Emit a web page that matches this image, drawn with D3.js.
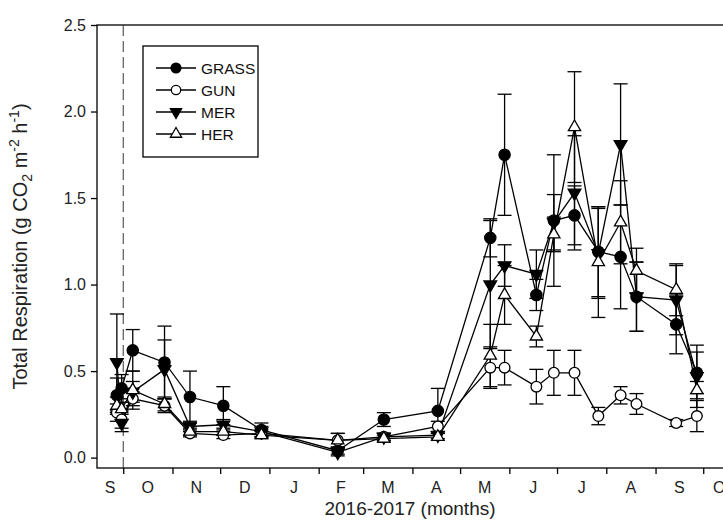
<!DOCTYPE html>
<html>
<head>
<meta charset="utf-8">
<script src="https://cdn.jsdelivr.net/npm/d3@7"></script>
<style>
  body { margin: 0; background: #fff; }
  svg { display: block; font-family: "Liberation Sans", Arial, sans-serif; }
</style>
</head>
<body>
<svg id="chart" width="723" height="520"></svg>
<script>
// ---- data ----
const dates = ["2016-09-27","2016-09-30","2016-10-07","2016-10-27","2016-11-12","2016-12-03","2016-12-27","2017-02-13","2017-03-14","2017-04-17","2017-05-20","2017-05-29","2017-06-18","2017-06-29","2017-07-12","2017-07-27","2017-08-10","2017-08-20","2017-09-14","2017-09-27"];
const grass    = [0.36,0.40,0.62,0.55,0.35,0.30,0.16,0.04,0.22,0.27,1.27,1.75,0.94,1.37,1.40,1.19,1.16,0.93,0.77,0.49];
const grassErr = [0.10,0.08,0.12,0.21,0.15,0.11,0.04,0.02,0.04,0.13,0.11,0.35,0.09,0.38,0.17,0.26,0.30,0.20,0.17,0.12];
const gun      = [0.26,0.22,0.34,0.30,0.14,0.13,0.14,0.10,0.12,0.18,0.52,0.52,0.41,0.49,0.49,0.24,0.36,0.31,0.20,0.24];
const gunErr   = [0.05,0.05,0.04,0.04,0.02,0.02,0.02,0.04,0.02,0.03,0.12,0.10,0.10,0.13,0.13,0.05,0.05,0.06,0.02,0.09];
const mer      = [0.55,0.20,0.38,0.51,0.18,0.19,0.15,0.03,0.12,0.13,1.00,1.11,1.06,1.36,1.53,1.18,1.81,0.93,0.91,0.47];
const merErr   = [0.28,0.05,0.06,0.17,0.03,0.03,0.03,0.02,0.02,0.02,0.37,0.12,0.14,0.16,0.33,0.26,0.35,0.20,0.20,0.18];
const her      = [0.30,0.28,0.39,0.31,0.15,0.15,0.13,0.10,0.11,0.12,0.59,0.94,0.70,1.29,1.91,1.13,1.36,1.08,0.97,0.39];
const herErr   = [0.05,0.06,0.11,0.04,0.02,0.02,0.02,0.04,0.02,0.02,0.18,0.17,0.06,0.10,0.32,0.32,0.24,0.13,0.15,0.05];
const seriesNames = ["GRASS","GUN","MER","HER"];
const yTicks = [0.0,0.5,1.0,1.5,2.0,2.5];
const monthLabels = ["S","O","N","D","J","F","M","A","M","J","J","A","S","O"];
const treatmentDate = "2016-10-01";

// ---- layout ----
const svg = d3.select("#chart");
const L = 97, T = 25, R = 735, B = 468;
const parse = d3.timeParse("%Y-%m-%d");
const x = d3.scaleTime()
  .domain([new Date(2016, 8, 14, 12), new Date(2017, 9, 21)])
  .range([L, R]);
const y = d3.scaleLinear().domain([-0.06, 2.5]).range([B, T]);

const font = 16;

// frame
svg.append("rect").attr("x", L).attr("y", T).attr("width", R - L).attr("height", B - T)
  .attr("fill", "none").attr("stroke", "#000").attr("stroke-width", 1.3);

// dashed treatment line
svg.append("line")
  .attr("x1", x(parse(treatmentDate))).attr("x2", x(parse(treatmentDate)))
  .attr("y1", T).attr("y2", B)
  .attr("stroke", "#333").attr("stroke-width", 1).attr("stroke-dasharray", "11,5");

// y axis
const yAxis = d3.axisLeft(y).tickValues(yTicks).tickFormat(d3.format(".1f")).tickSize(6).tickPadding(5);
const gy = svg.append("g").attr("transform", `translate(${L},0)`).call(yAxis);
gy.select(".domain").remove();
gy.selectAll("text").attr("font-size", font).attr("fill", "#222").attr("font-family", "Liberation Sans, Arial, sans-serif");
gy.selectAll("line").attr("stroke-width", 1.3);

// x axis: month boundary ticks
const monthStarts = d3.timeMonth.range(new Date(2016, 9, 1), new Date(2017, 9, 2));
const xAxis = d3.axisBottom(x).tickValues(monthStarts).tickFormat("").tickSize(6);
const gx = svg.append("g").attr("transform", `translate(0,${B})`).call(xAxis);
gx.select(".domain").remove();
gx.selectAll("line").attr("stroke-width", 1.3);

// month labels centered on visible month span
const allMonths = d3.timeMonth.range(new Date(2016, 8, 1), new Date(2017, 10, 1));
allMonths.forEach((m, i) => {
  if (i >= monthLabels.length) return;
  const a = Math.max(x(m), L);
  const b = Math.min(x(d3.timeMonth.offset(m, 1)), R);
  svg.append("text").attr("x", (a + b) / 2).attr("y", B + 25)
    .attr("text-anchor", "middle").attr("font-size", font).attr("fill", "#222")
    .text(monthLabels[i]);
});

// axis titles
svg.append("text").attr("x", 410).attr("y", 515)
  .attr("text-anchor", "middle").attr("font-size", 19).attr("fill", "#222")
  .text("2016-2017 (months)");

const yl = svg.append("text").attr("transform", `translate(27,${(T + B) / 2}) rotate(-90)`)
  .attr("text-anchor", "middle").attr("font-size", 20).attr("fill", "#222");
yl.append("tspan").text("Total Respiration (g CO");
yl.append("tspan").attr("font-size", 14).attr("dy", 5).text("2");
yl.append("tspan").attr("dy", -5).text(" m");
yl.append("tspan").attr("font-size", 14).attr("dy", -8).text("-2");
yl.append("tspan").attr("dy", 8).text(" h");
yl.append("tspan").attr("font-size", 14).attr("dy", -8).text("-1");
yl.append("tspan").attr("dy", 8).text(")");

// ---- series ----
const series = [
  {name: seriesNames[0], vals: grass, err: grassErr, shape: d3.symbolCircle, fill: "#000", size: 100, lsize: 75},
  {name: seriesNames[1], vals: gun,   err: gunErr,   shape: d3.symbolCircle, fill: "#fff", size: 90, lsize: 70},
  {name: seriesNames[2], vals: mer,   err: merErr,   shape: "down",          fill: "#000", size: 70, lsize: 55},
  {name: seriesNames[3], vals: her,   err: herErr,   shape: d3.symbolTriangle, fill: "#fff", size: 65, lsize: 55},
];
const pts = s => dates.map((d, i) => ({t: parse(d), v: s.vals[i], e: s.err[i]}));
function symPath(s, size) {
  if (s.shape === "down") return d3.symbol(d3.symbolTriangle, size)();
  return d3.symbol(s.shape, size)();
}
const line = d3.line().x(d => x(d.t)).y(d => y(d.v));
const capW = 7;

series.forEach(s => {
  const g = svg.append("g");
  const p = pts(s);
  g.append("path").attr("d", line(p)).attr("fill", "none").attr("stroke", "#000").attr("stroke-width", 1.3);
  p.forEach(d => {
    const cx = x(d.t);
    g.append("line").attr("x1", cx).attr("x2", cx).attr("y1", y(d.v - d.e)).attr("y2", y(d.v + d.e))
      .attr("stroke", "#000").attr("stroke-width", 1.3);
    [d.v - d.e, d.v + d.e].forEach(v => {
      g.append("line").attr("x1", cx - capW).attr("x2", cx + capW).attr("y1", y(v)).attr("y2", y(v))
        .attr("stroke", "#000").attr("stroke-width", 1.3);
    });
  });
});
series.forEach(s => {
  const p = pts(s);
  svg.append("g").selectAll("path").data(p).join("path")
    .attr("d", symPath(s, s.size))
    .attr("transform", d => `translate(${x(d.t)},${y(d.v)})` + (s.shape === "down" ? " rotate(180)" : ""))
    .attr("fill", s.fill).attr("stroke", "#000").attr("stroke-width", 1.3);
});

// ---- legend ----
const lg = svg.append("g");
lg.append("rect").attr("x", 143).attr("y", 46).attr("width", 115).attr("height", 111)
  .attr("fill", "#fff").attr("stroke", "#000").attr("stroke-width", 1.3);
series.forEach((s, i) => {
  const yy = 68 + i * 22;
  lg.append("line").attr("x1", 156).attr("x2", 196).attr("y1", yy).attr("y2", yy)
    .attr("stroke", "#000").attr("stroke-width", 1.3);
  lg.append("path").attr("d", symPath(s, s.lsize))
    .attr("transform", `translate(176,${yy})` + (s.shape === "down" ? " rotate(180)" : ""))
    .attr("fill", s.fill).attr("stroke", "#000").attr("stroke-width", 1.3);
  lg.append("text").attr("x", 201).attr("y", yy + 5.5).attr("font-size", 15.5).attr("fill", "#111").text(s.name);
});
</script>
</body>
</html>
